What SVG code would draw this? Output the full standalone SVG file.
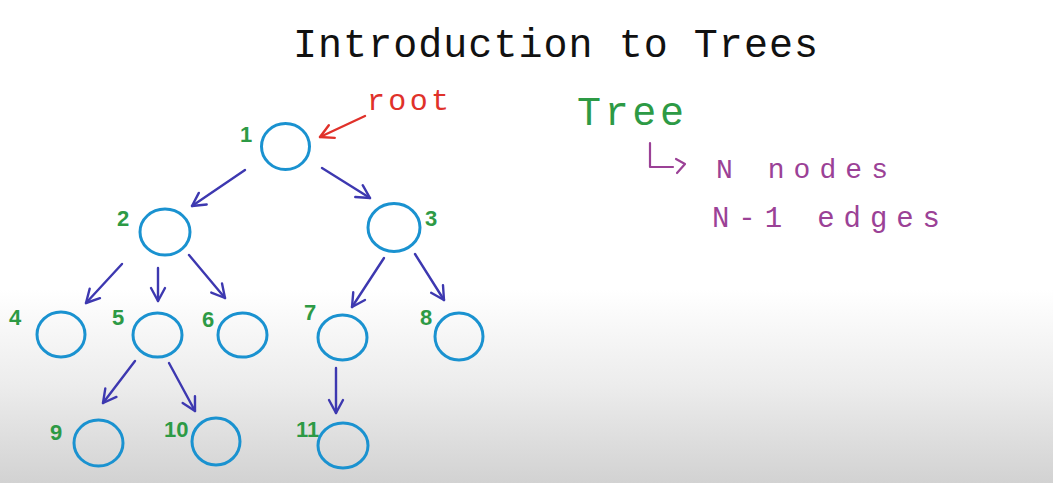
<svg xmlns="http://www.w3.org/2000/svg" width="1053" height="483" viewBox="0 0 1053 483">
  <defs>
    <linearGradient id="bg" x1="0" y1="0" x2="0" y2="483" gradientUnits="userSpaceOnUse">
      <stop offset="0" stop-color="#ffffff"/>
      <stop offset="0.6" stop-color="#ffffff"/>
      <stop offset="0.8" stop-color="#ececec"/>
      <stop offset="1" stop-color="#d2d2d2"/>
    </linearGradient>
    <marker id="ah" viewBox="0 0 18 18" refX="16" refY="9" markerWidth="18" markerHeight="18" markerUnits="userSpaceOnUse" orient="auto">
      <path d="M3,2 L16,9 L3,16" fill="none" stroke="#3d38b0" stroke-width="2.4" stroke-linecap="round" stroke-linejoin="round"/>
    </marker>
    <marker id="ahr" viewBox="0 0 18 18" refX="16" refY="9" markerWidth="18" markerHeight="18" markerUnits="userSpaceOnUse" orient="auto">
      <path d="M3,2 L16,9 L3,16" fill="none" stroke="#e0312a" stroke-width="2.4" stroke-linecap="round" stroke-linejoin="round"/>
    </marker>
    <style>
      .node { fill: none; stroke: #1a92d0; stroke-width: 3; }
      .lbl { font-family: "Liberation Sans", Arial, sans-serif; font-weight: bold; font-size: 22px; fill: #2d9a45; }
      .edge { stroke: #3d38b0; stroke-width: 2.4; fill: none; stroke-linecap: round; marker-end: url(#ah); }
      .hand { font-family: "Liberation Mono", "DejaVu Sans Mono", monospace; }
    </style>
  </defs>
  <rect x="0" y="0" width="1053" height="483" fill="url(#bg)"/>

  <text class="hand" x="293" y="57" font-size="40" fill="#111111" textLength="525" lengthAdjust="spacing">Introduction to Trees</text>

  <g id="connectors">
    <line class="edge" x1="245" y1="170" x2="192" y2="206"/>
    <line class="edge" x1="322" y1="168" x2="370" y2="198"/>
    <line class="edge" x1="122" y1="264" x2="86" y2="303"/>
    <line class="edge" x1="158" y1="268" x2="158" y2="301"/>
    <line class="edge" x1="189" y1="255" x2="225" y2="298"/>
    <line class="edge" x1="384" y1="258" x2="352" y2="307"/>
    <line class="edge" x1="415" y1="254" x2="444" y2="300"/>
    <line class="edge" x1="135" y1="361" x2="103" y2="403"/>
    <line class="edge" x1="169" y1="363" x2="195" y2="411"/>
    <line class="edge" x1="336" y1="368" x2="336" y2="413"/>
    <line x1="365" y1="116" x2="320" y2="137" stroke="#e0312a" stroke-width="2.4" stroke-linecap="round" marker-end="url(#ahr)"/>
  </g>

  <text id="root-label" class="hand" x="367" y="110" font-size="30" fill="#e0312a" textLength="82" lengthAdjust="spacing">root</text>

  <g id="n1"><ellipse class="node" cx="285.5" cy="146.5" rx="24" ry="23"/><text class="lbl" x="240" y="142">1</text></g>
  <g id="n2"><ellipse class="node" cx="165" cy="232" rx="25" ry="23"/><text class="lbl" x="117" y="226">2</text></g>
  <g id="n3"><ellipse class="node" cx="394" cy="227.5" rx="26" ry="24"/><text class="lbl" x="425" y="226">3</text></g>
  <g id="n4"><ellipse class="node" cx="61" cy="334.5" rx="24" ry="22.5"/><text class="lbl" x="9" y="325">4</text></g>
  <g id="n5"><ellipse class="node" cx="157.5" cy="335" rx="24.5" ry="22"/><text class="lbl" x="112" y="325">5</text></g>
  <g id="n6"><ellipse class="node" cx="242.5" cy="335" rx="24.5" ry="22"/><text class="lbl" x="202" y="327">6</text></g>
  <g id="n7"><ellipse class="node" cx="342.5" cy="337.5" rx="24.5" ry="22.5"/><text class="lbl" x="304" y="320">7</text></g>
  <g id="n8"><ellipse class="node" cx="459" cy="336.5" rx="24" ry="23.5"/><text class="lbl" x="420" y="325">8</text></g>
  <g id="n9"><ellipse class="node" cx="98.5" cy="443" rx="24.5" ry="23"/><text class="lbl" x="50" y="440">9</text></g>
  <g id="n10"><ellipse class="node" cx="216" cy="441.5" rx="24" ry="23.5"/><text class="lbl" x="164" y="437">10</text></g>
  <g id="n11"><ellipse class="node" cx="343" cy="445.5" rx="25" ry="22.5"/><text class="lbl" x="296" y="437">11</text></g>

  <g id="notes">
    <text class="hand" x="577" y="125" font-size="40" fill="#2d9a45" textLength="107" lengthAdjust="spacing">Tree</text>
    <path d="M650,143 L650,167 L673,167 M676,159 L685,164 L677,173" fill="none" stroke="#9b4196" stroke-width="2.2" stroke-linecap="round" stroke-linejoin="round"/>
    <text class="hand" x="716" y="178" font-size="28" fill="#9b4196" textLength="172" lengthAdjust="spacing">N nodes</text>
    <text class="hand" x="712" y="227" font-size="29" fill="#9b4196" textLength="228" lengthAdjust="spacing">N-1 edges</text>
  </g>
</svg>
